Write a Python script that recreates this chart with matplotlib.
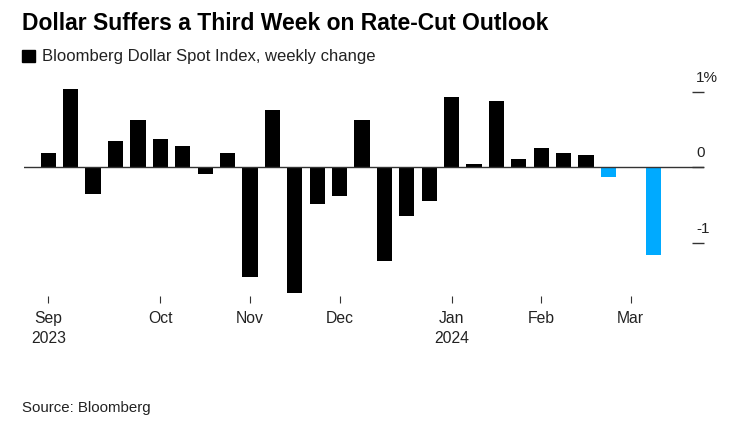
import matplotlib.pyplot as plt
import matplotlib.transforms as mtransforms
from matplotlib.patches import Patch
import pandas as pd

plt.rcParams['font.family'] = ['Liberation Sans', 'DejaVu Sans']

# weekly change of the Bloomberg Dollar Spot Index, %, week ending on Friday
weeks = pd.date_range('2023-09-01', periods=28, freq='W-FRI')
change = [0.19, 1.04, -0.36, 0.35, 0.63, 0.38, 0.28, -0.09, 0.19, -1.46,
          0.76, -1.67, -0.49, -0.38, 0.63, -1.24, -0.65, -0.45, 0.94, 0.05,
          0.88, 0.11, 0.26, 0.19, 0.16, -0.13, -0.01, -1.16]
n_highlight = 3                     # the three losing weeks in a row

month_ticks = [0, 5, 9, 13, 18, 22, 26]
month_labels = ['Sep\n2023', 'Oct', 'Nov', 'Dec', 'Jan\n2024', 'Feb', 'Mar']
y_ticks = [-1, 0, 1]
y_labels = ['-1', '0', '1%']

black = '#000000'
blue = '#00aaff'
ink = '#222222'

colors = [black] * (len(change) - n_highlight) + [blue] * n_highlight
x = range(len(weeks))

fig = plt.figure(figsize=(7.47, 4.41), dpi=100)
ax = fig.add_axes([24 / 747, 1 - 296 / 441, (704 - 24) / 747, (296 - 70) / 441])

ax.bar(x, change, width=0.68, color=colors, edgecolor='none', zorder=2)
ax.axhline(0, color='#333333', lw=1.0, zorder=3)

ax.set_xlim(-1.085, 29.27)
ax.set_ylim(-1.709, 1.292)

for s in ax.spines.values():
    s.set_visible(False)

ax.set_xticks(month_ticks)
ax.set_xticklabels(month_labels, fontsize=11.3, color=ink, linespacing=1.4)
ax.tick_params(axis='x', length=5, width=0.8, color='#333333', pad=6)

ax.yaxis.tick_right()
ax.set_yticks(y_ticks)
ax.set_yticklabels(y_labels, fontsize=11, color=ink)
ax.tick_params(axis='y', direction='in', length=8.5, width=1.0,
               color='#333333', pad=0)
shift = mtransforms.ScaledTranslation(-8 / 100, 10 / 100, fig.dpi_scale_trans)
for lab in ax.get_yticklabels():
    lab.set_verticalalignment('baseline')
    lab.set_horizontalalignment('left')
    lab.set_transform(lab.get_transform() + shift)

fig.text(22 / 747, 1 - 24 / 441, 'Dollar Suffers a Third Week on Rate-Cut Outlook',
         fontsize=16.5, fontweight='bold', color='black', va='center', ha='left')

fig.legend(handles=[Patch(color=black)],
           labels=['Bloomberg Dollar Spot Index, weekly change'],
           loc='center left', bbox_to_anchor=(22 / 747, 1 - 57 / 441),
           frameon=False, fontsize=12, handlelength=0.75, handleheight=0.75,
           handletextpad=0.45, borderpad=0, borderaxespad=0, labelcolor=ink)

fig.text(22 / 747, 1 - 408 / 441, 'Source: Bloomberg', fontsize=10.8,
         color=ink, va='center', ha='left')

fig.savefig('out.png', dpi=100)
